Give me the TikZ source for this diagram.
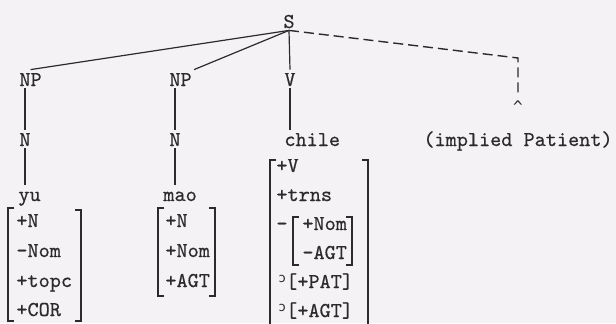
\documentclass[tikz,border=0pt]{standalone}
\usepackage{fontspec}
\newfontfamily\twfam{Latin Modern Mono}[FakeBold=0.5]
\newfontfamily\symfont{DejaVu Sans Mono}
\definecolor{ink}{HTML}{2B2B2B}
\definecolor{paper}{HTML}{F5F2F5}
\newcommand\twfont{\twfam\fontsize{10.6}{12}\selectfont}
\newcommand\opt{{\symfont\fontsize{6.5}{7}\selectfont\raisebox{3pt}{ɔ}}}
\tikzset{
  lbl/.style={font=\twfont, text=ink, inner sep=1pt, text height=7pt, text depth=0pt, anchor=base west},
  clbl/.style={lbl, anchor=base},
  edge/.style={line width=0.6pt, draw=ink},
  brk/.style={line width=0.6pt, draw=ink},
  dashedge/.style={edge, line width=0.7pt, dash pattern=on 5pt off 2.5pt},
}
\begin{document}
\begin{tikzpicture}[x=0.5pt,y=-0.5pt]
\fill[paper] (0,0) rectangle (616,323);
\useasboundingbox (0,0) rectangle (616,323);

% tree nodes
\node[clbl] (S) at (289,28) {S};
\node[lbl] (NP1) at (17,86) {NP};
\node[lbl] (NP2) at (167,86) {NP};
\node[clbl] (V) at (290,86) {V};
\node[lbl] (N1) at (17,146) {N};
\node[lbl] (N2) at (167,146) {N};
\node[lbl] (chile) at (282,146) {chile};
\node[clbl] (impl) at (518,146) {(implied Patient)};
\node[clbl] (caret) at (518,112) {{\symfont\fontsize{8}{9}\selectfont\textasciicircum}};
\node[lbl] (yu) at (16,201) {yu};
\node[lbl] (mao) at (161,201) {mao};
\coordinate (corner) at (518,58);

% connectors
\draw[edge] (S.south) -- (NP1.north);
\draw[edge] (S.south) -- (NP2.north east);
\draw[edge] (S.south) -- (V.north);
\draw[edge] (N1.north) -- (N1.north |- NP1.south);
\draw[edge] (N1.south) -- (N1.south |- yu.north);
\draw[edge] (N2.north) -- (N2.north |- NP2.south);
\draw[edge] (N2.south) -- (N2.south |- mao.north);
\draw[edge] (V.south) -- (V.south |- chile.north);
\draw[dashedge] (S.south) -- (corner) -- (caret.north);

% yu features
\node[lbl] (yu1) at (14,227) {+N};
\node[lbl] (yu2) at (14,257) {-Nom};
\node[lbl] (yu3) at (14,287) {+topc};
\node[lbl] (yu4) at (14,316) {+COR};
\draw[brk] (14,208) -- (8,208) -- (8,321) -- (14,321);
\draw[brk] (75,210) -- (81,210) -- (81,321) -- (75,321);

% mao features
\node[lbl] (mao1) at (163,227) {+N};
\node[lbl] (mao2) at (163,257) {+Nom};
\node[lbl] (mao3) at (163,287) {+AGT};
\draw[brk] (164,208) -- (158,208) -- (158,296) -- (164,296);
\draw[brk] (209,208) -- (215,208) -- (215,296) -- (209,296);

% chile features
\node[lbl] (ch1) at (274,172) {+V};
\node[lbl] (ch2) at (274,201) {+trns};
\node[lbl] (ch3) at (274,230) {-};
\node[lbl] (ch3a) at (300,230) {+Nom};
\node[lbl] (ch3b) at (300,259) {-AGT};
\node[lbl] (ch4) at (276,288) {\opt[+PAT]};
\node[lbl] (ch5) at (276,317) {\opt[+AGT]};
\draw[brk] (276,160) -- (270,160) -- (270,330);
\draw[brk] (362,160) -- (368,160) -- (368,330);
\draw[brk] (299,217) -- (293,217) -- (293,265) -- (299,265);
\draw[brk] (346,217) -- (352,217) -- (352,265) -- (346,265);
\end{tikzpicture}
\end{document}
